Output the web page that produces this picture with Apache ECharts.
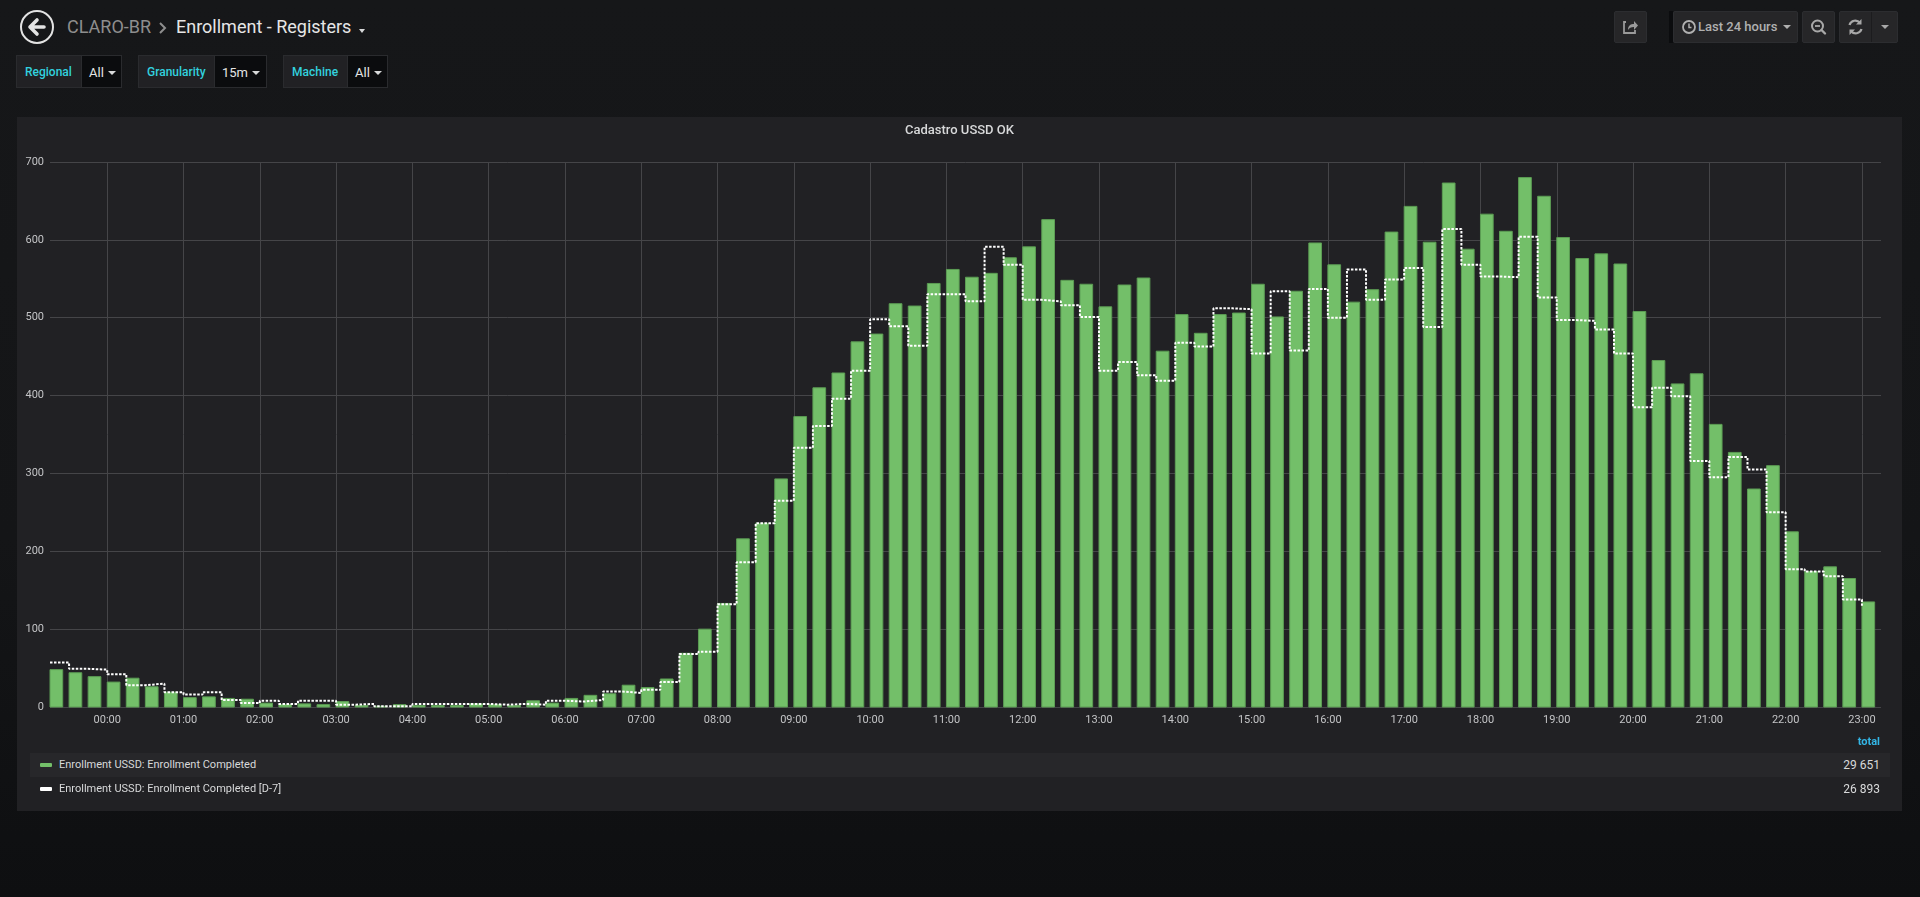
<!DOCTYPE html>
<html>
  <head>
    <meta charset="UTF-8" />
    <title>Enrollment - Registers</title>
    <style>
      html, body {
        margin: 0;
        padding: 0;
        width: 1920px;
        height: 897px;
        overflow: hidden;
        font-family: Roboto, "Open Sans", sans-serif;
        background: linear-gradient(#161719 0%, #141517 60%, #0e0f11 100%);
        color: #d8d9da;
      }
      .abs { position: absolute; }
      .crumb { top: 14px; font-size: 18px; line-height: 26px; white-space: nowrap; }
      .var-label, .var-value {
        position: absolute;
        top: 55px;
        height: 33px;
        line-height: 33px;
        font-size: 12px;
        box-sizing: border-box;
        border: 1px solid #2a2b2e;
      }
      .var-label { background: #212124; color: #32d1df; font-weight: 500; padding-left: 8px; border-right: none; }
      .var-value { background: #0b0c0e; color: #e4e4e4; font-size: 13px; padding-left: 7px; }
      .caret {
        display: inline-block;
        width: 0; height: 0;
        border-left: 4px solid transparent;
        border-right: 4px solid transparent;
        border-top: 4px solid #d8d9da;
        margin-left: 4px;
        vertical-align: 2px;
      }
      .btn {
        position: absolute;
        top: 11px;
        height: 32px;
        box-sizing: border-box;
        background: #262628;
        border: 1px solid #2c2d30;
        border-radius: 2px;
      }
      #panel {
        position: absolute;
        left: 17px;
        top: 117px;
        width: 1885px;
        height: 694px;
        background: #212124;
      }
      #chart { position: absolute; left: 0; top: 0; width: 1885px; height: 694px; }
      .total-head {
        position: absolute;
        right: 22px;
        top: 618px;
        font-size: 11px;
        font-weight: 700;
        color: #33b5e5;
      }
      .legend-row {
        position: absolute;
        left: 13px;
        width: 1860px;
        height: 24px;
        line-height: 24px;
        font-size: 11px;
        color: #d8d9da;
      }
      .legend-row .sw {
        position: absolute;
        left: 10px;
        top: 10px;
        width: 12px;
        height: 4px;
        border-radius: 1px;
      }
      .legend-row .name { position: absolute; left: 29px; }
      .legend-row .val { position: absolute; right: 10px; font-size: 12px; }
    </style>
    <script src="https://cdn.jsdelivr.net/npm/echarts@6/dist/echarts.min.js"></script>
  </head>

  <body>
    <!-- top navbar -->
    <svg class="abs" style="left: 19px; top: 9px" width="36" height="36">
      <circle cx="18" cy="18" r="16" fill="none" stroke="#e3e3e3" stroke-width="2" />
      <path d="M18 11 L11 18 L18 25 M11 18 L25 18" stroke="#e3e3e3" stroke-width="3.6" fill="none"
        stroke-linecap="round" stroke-linejoin="round" />
    </svg>
    <div class="abs crumb" style="left: 67px; color: #8e8e8e">CLARO-BR</div>
    <svg class="abs" style="left: 158px; top: 21px" width="10" height="14">
      <path d="M2 2 L7 7 L2 12" stroke="#8e8e8e" stroke-width="2" fill="none" />
    </svg>
    <div class="abs crumb" style="left: 176px; color: #e6e6e6">Enrollment - Registers</div>
    <div class="abs" style="left: 359px; top: 29px; width: 0; height: 0; border-left: 3px solid transparent; border-right: 3px solid transparent; border-top: 4px solid #d8d9da"></div>

    <div class="btn" style="left: 1614px; width: 33px">
      <svg width="31" height="30" style="position: absolute; left: 0; top: 0">
        <path d="M11 10 L9 10 L9 21 L20 21 L20 18" stroke="#9a9a9a" stroke-width="1.8" fill="none" />
        <path d="M13 18 C13 13 16 12 19 12 L19 9 L23 13.5 L19 18 L19 15 C16 15 14 16 13 18 Z" fill="#9a9a9a" />
      </svg>
    </div>
    <div class="abs" style="left: 1669px; top: 11px; width: 4px; height: 32px; background: #0b0c0e"></div>
    <div class="btn" style="left: 1673px; width: 125px">
      <svg width="16" height="16" style="position: absolute; left: 7px; top: 7px">
        <circle cx="8" cy="8" r="6" stroke="#b0b0b0" stroke-width="1.8" fill="none" />
        <path d="M8 4.5 L8 8.5 L10.5 8.5" stroke="#b0b0b0" stroke-width="1.5" fill="none" />
      </svg>
      <span style="position: absolute; left: 24px; top: 0; line-height: 30px; font-size: 13px; font-weight: 500; color: #b0b0b0; white-space: nowrap">Last 24 hours</span>
      <span style="position: absolute; left: 109px; top: 13px; width: 0; height: 0; border-left: 4px solid transparent; border-right: 4px solid transparent; border-top: 4px solid #b0b0b0"></span>
    </div>
    <div class="btn" style="left: 1802px; width: 33px">
      <svg width="31" height="30" style="position: absolute; left: 0; top: 0">
        <circle cx="14.5" cy="14" r="5.5" stroke="#a8a8a8" stroke-width="2" fill="none" />
        <path d="M12 14 L17 14" stroke="#a8a8a8" stroke-width="1.8" />
        <path d="M18.5 18 L22 21.5" stroke="#a8a8a8" stroke-width="2.4" stroke-linecap="round" />
      </svg>
    </div>
    <div class="btn" style="left: 1839px; width: 59px">
      <svg width="31" height="30" style="position: absolute; left: 0; top: 0">
        <path d="M9.5 13 A6 6 0 0 1 20 11" stroke="#a8a8a8" stroke-width="2.2" fill="none" />
        <path d="M21.5 7 L21.5 12.5 L16 12.5 Z" fill="#a8a8a8" />
        <path d="M21.5 17 A6 6 0 0 1 11 19" stroke="#a8a8a8" stroke-width="2.2" fill="none" />
        <path d="M9.5 23 L9.5 17.5 L15 17.5 Z" fill="#a8a8a8" />
      </svg>
      <div style="position: absolute; left: 31px; top: 0; width: 1px; height: 30px; background: #1c1c1e"></div>
      <span style="position: absolute; left: 41px; top: 13px; width: 0; height: 0; border-left: 4px solid transparent; border-right: 4px solid transparent; border-top: 4px solid #a8a8a8"></span>
    </div>

    <!-- template variables -->
    <div class="var-label" style="left: 16px; width: 65px">Regional</div>
    <div class="var-value" style="left: 81px; width: 41px">All<span class="caret"></span></div>
    <div class="var-label" style="left: 138px; width: 76px">Granularity</div>
    <div class="var-value" style="left: 214px; width: 53px">15m<span class="caret"></span></div>
    <div class="var-label" style="left: 283px; width: 64px">Machine</div>
    <div class="var-value" style="left: 347px; width: 41px">All<span class="caret"></span></div>

    <!-- graph panel -->
    <div id="panel">
      <div id="chart"></div>
      <div class="total-head">total</div>
      <div class="legend-row" style="top: 636px; background: #27272a">
        <span class="sw" style="background: #73bf69"></span>
        <span class="name" id="name0"></span>
        <span class="val" id="val0"></span>
      </div>
      <div class="legend-row" style="top: 660px">
        <span class="sw" style="background: #ffffff"></span>
        <span class="name" id="name1"></span>
        <span class="val" id="val1"></span>
      </div>
    </div>

    <script>
      var panelTitle = "Cadastro USSD OK";
      var seriesNames = [
        "Enrollment USSD: Enrollment Completed",
        "Enrollment USSD: Enrollment Completed [D-7]",
      ];

      // 15 minute buckets, last 24 hours
      var times = [
        "23:15", "23:30", "23:45",
        "00:00", "00:15", "00:30", "00:45",
        "01:00", "01:15", "01:30", "01:45",
        "02:00", "02:15", "02:30", "02:45",
        "03:00", "03:15", "03:30", "03:45",
        "04:00", "04:15", "04:30", "04:45",
        "05:00", "05:15", "05:30", "05:45",
        "06:00", "06:15", "06:30", "06:45",
        "07:00", "07:15", "07:30", "07:45",
        "08:00", "08:15", "08:30", "08:45",
        "09:00", "09:15", "09:30", "09:45",
        "10:00", "10:15", "10:30", "10:45",
        "11:00", "11:15", "11:30", "11:45",
        "12:00", "12:15", "12:30", "12:45",
        "13:00", "13:15", "13:30", "13:45",
        "14:00", "14:15", "14:30", "14:45",
        "15:00", "15:15", "15:30", "15:45",
        "16:00", "16:15", "16:30", "16:45",
        "17:00", "17:15", "17:30", "17:45",
        "18:00", "18:15", "18:30", "18:45",
        "19:00", "19:15", "19:30", "19:45",
        "20:00", "20:15", "20:30", "20:45",
        "21:00", "21:15", "21:30", "21:45",
        "22:00", "22:15", "22:30", "22:45",
        "23:00",
      ];

      var completed = [
        48, 44, 39,
        32, 37, 26, 19,
        12, 13, 11, 10,
        5, 3, 4, 3,
        7, 2, 1, 3,
        2, 2, 2, 4,
        3, 2, 8, 5,
        11, 15, 17, 28,
        25, 36, 69, 100,
        133, 216, 236, 293,
        373, 410, 429, 469,
        479, 518, 515, 544,
        562, 552, 557, 577,
        591, 626, 548, 543,
        514, 542, 551, 457,
        504, 480, 504, 506,
        543, 501, 534, 596,
        568, 520, 536, 610,
        643, 597, 673, 588,
        633, 611, 680, 656,
        603, 576, 582, 569,
        508, 445, 415, 428,
        363, 327, 280, 310,
        225, 174, 180, 165,
        135,
      ];

      var completedD7 = [
        57, 49, 48,
        42, 28, 30, 19,
        16, 19, 9, 5,
        8, 4, 8, 8,
        3, 4, 1, 1,
        4, 4, 4, 4,
        3, 4, 3, 8,
        7, 9, 20, 18,
        22, 32, 68, 71,
        132, 186, 236, 265,
        333, 361, 396, 432,
        498, 489, 464, 530,
        530, 521, 591, 568,
        523, 521, 516, 501,
        432, 443, 426, 419,
        468, 463, 512, 511,
        454, 534, 458, 537,
        500, 562, 523, 549,
        564, 488, 614, 568,
        553, 552, 604, 526,
        497, 496, 485, 454,
        385, 410, 399, 316,
        295, 321, 305, 250,
        177, 174, 168, 138,
        130,
      ];

      var yTicks = [0, 100, 200, 300, 400, 500, 600, 700];

      var bucketMin = 15;
      var barMin = 10;

      // "HH:mm" -> running minutes (day rollover aware)
      var xs = [];
      var dayOffset = 0;
      for (var i = 0; i < times.length; i++) {
        var p = times[i].split(":");
        var m = parseInt(p[0], 10) * 60 + parseInt(p[1], 10) + dayOffset;
        if (xs.length && m < xs[xs.length - 1]) {
          dayOffset += 1440;
          m += 1440;
        }
        xs.push(m);
      }
      var hourTicks = xs.filter(function (v, i) {
        return times[i].slice(3) === "00";
      });

      function pad(n) {
        return (n < 10 ? "0" : "") + n;
      }
      function fmtTime(v) {
        var m = ((v % 1440) + 1440) % 1440;
        return pad(Math.floor(m / 60)) + ":" + pad(m % 60);
      }
      function fmtTotal(arr) {
        var s = 0;
        for (var i = 0; i < arr.length; i++) s += arr[i];
        return String(s).replace(/\B(?=(\d{3})+(?!\d))/g, " ");
      }

      var barData = xs.map(function (x, i) {
        return [x, completed[i]];
      });
      var lineData = xs.map(function (x, i) {
        return [x, completedD7[i]];
      });

      document.getElementById("name0").textContent = seriesNames[0];
      document.getElementById("name1").textContent = seriesNames[1];
      document.getElementById("val0").textContent = fmtTotal(completed);
      document.getElementById("val1").textContent = fmtTotal(completedD7);

      var myChart = echarts.init(document.getElementById("chart"));

      var gridColor = "#454548";
      var labelColor = "#c3c4c6";

      var option = {
        backgroundColor: "transparent",
        animation: false,
        title: {
          text: panelTitle,
          left: "center",
          top: 7,
          padding: 0,
          textStyle: {
            color: "#d8d9da",
            fontSize: 13,
            fontWeight: 500,
            fontFamily: "Roboto",
          },
        },
        grid: {
          left: 33,
          right: 21,
          top: 45,
          height: 545,
        },
        xAxis: {
          type: "value",
          min: xs[0],
          max: xs[xs.length - 1] + bucketMin,
          axisLine: { show: false },
          axisTick: { show: false, customValues: hourTicks },
          splitLine: {
            show: true,
            lineStyle: { color: gridColor, width: 1 },
          },
          axisLabel: {
            customValues: hourTicks,
            formatter: fmtTime,
            color: labelColor,
            fontSize: 11,
            fontFamily: "Roboto",
            margin: 8,
          },
        },
        yAxis: {
          type: "value",
          min: yTicks[0],
          max: yTicks[yTicks.length - 1],
          interval: 100,
          axisLine: { show: false },
          axisTick: { show: false },
          splitLine: {
            show: true,
            lineStyle: { color: gridColor, width: 1 },
          },
          axisLabel: {
            color: labelColor,
            fontSize: 11,
            fontFamily: "Roboto",
            margin: 6,
          },
        },
        series: [
          {
            name: seriesNames[0],
            type: "custom",
            data: barData,
            encode: { x: 0, y: 1 },
            renderItem: function (params, api) {
              var top = api.coord([api.value(0), api.value(1)]);
              var base = api.coord([api.value(0) + barMin, 0]);
              return {
                type: "rect",
                shape: {
                  x: top[0],
                  y: top[1],
                  width: base[0] - top[0],
                  height: base[1] - top[1],
                },
                style: {
                  fill: "#73bf69",
                  stroke: "#5c9d54",
                  lineWidth: 1,
                },
              };
            },
            z: 2,
          },
          {
            name: seriesNames[1],
            type: "line",
            step: "end",
            data: lineData,
            showSymbol: false,
            symbol: "none",
            lineStyle: {
              color: "#ffffff",
              width: 2,
              type: [2.5, 1.5],
            },
            z: 3,
          },
        ],
      };

      myChart.setOption(option);
    </script>
  </body>
</html>
